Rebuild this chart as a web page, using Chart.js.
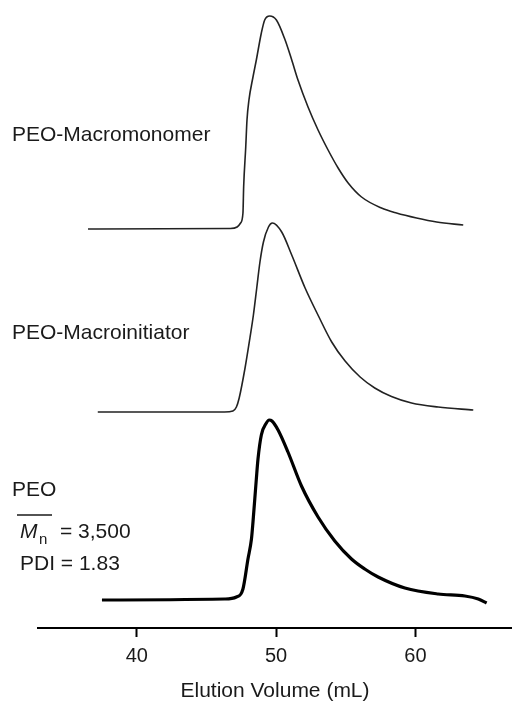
<!DOCTYPE html>
<html>
<head>
<meta charset="utf-8">
<script src="https://cdn.jsdelivr.net/npm/chart.js@4/dist/chart.umd.min.js"></script>
<style>
  html, body { margin: 0; padding: 0; background: #fff; }
  #wrap { width: 512px; height: 702px; position: relative; }
</style>
</head>
<body>
<div id="wrap"><canvas id="gpcChart"></canvas></div>
<script>
// elution volume (mL) and detector signal (arbitrary units)
const macromonomerVol = [36.5, 46.7, 47.2, 47.45, 47.62, 47.67, 47.82, 47.91, 48.05, 48.34, 48.58, 48.94, 49.18, 49.54, 50.02, 50.62, 51.10, 51.57, 52.29, 53.01, 53.73, 54.45, 55.17, 56.13, 57.56, 58.64, 60.08, 61.52, 63.43];
const macromonomerSig = [0, 0.5, 2, 6, 16, 42, 82, 109, 129, 152, 169, 196, 209, 213, 209, 190, 170, 149, 122, 99, 79, 61, 46, 32, 21, 16, 11, 7, 4];

const macroinitiatorVol = [37.2, 46.3, 46.9, 47.15, 47.35, 47.77, 48.12, 48.37, 48.61, 48.84, 49.09, 49.45, 49.73, 50.40, 51.12, 52.08, 53.04, 53.99, 54.95, 56.03, 57.08, 58.28, 59.72, 61.63, 64.15];
const macroinitiatorSig = [0, 0, 1, 5, 14, 44, 74, 97, 124, 150, 170, 185, 189, 180, 157, 124, 96, 70, 51, 35, 24, 15.5, 9, 5, 2];

const peoVol = [37.5, 46.3, 47.15, 47.62, 47.98, 48.23, 48.34, 48.58, 48.70, 48.94, 49.30, 49.50, 49.70, 50.14, 50.85, 51.82, 53.01, 54.21, 55.41, 56.36, 57.32, 59.24, 61.63, 63.55, 64.51, 65.11];
const peoSig = [0, 1, 3, 11, 41, 61, 78, 121, 141, 165, 177, 180, 179, 170, 148, 114, 83, 59, 41, 31, 23, 12, 6, 4, 1, -3];

const xTicks = [40, 50, 60];
const seriesNames = ["PEO-Macromonomer", "PEO-Macroinitiator", "PEO"];

// traces are stacked: each one is lifted by its own baseline
const stackOffset = [399, 216, 28];

function toPoints(vol, sig, off) {
  return vol.map((v, i) => ({ x: v, y: sig[i] + off }));
}

const labelPlugin = {
  id: "traceLabels",
  afterDraw(chart) {
    const ctx = chart.ctx;
    ctx.save();
    ctx.fillStyle = "#1a1a1a";
    ctx.textBaseline = "middle";
    ctx.textAlign = "left";
    ctx.font = "21px 'Liberation Sans', Arial, sans-serif";
    ctx.fillText(seriesNames[0], 12, 135);
    ctx.fillText(seriesNames[1], 12, 333);
    ctx.fillText(seriesNames[2], 12, 490);

    // Mn with overline and subscript
    ctx.font = "italic 21px 'Liberation Sans', Arial, sans-serif";
    ctx.fillText("M", 20, 532);
    ctx.font = "15px 'Liberation Sans', Arial, sans-serif";
    ctx.fillText("n", 39, 540);
    ctx.font = "21px 'Liberation Sans', Arial, sans-serif";
    ctx.fillText("= 3,500", 60, 532);
    ctx.fillText("PDI = 1.83", 20, 564);

    ctx.strokeStyle = "#1a1a1a";
    ctx.lineWidth = 1.5;
    ctx.beginPath();
    ctx.moveTo(17, 515);
    ctx.lineTo(52, 515);
    ctx.stroke();
    ctx.restore();
  }
};

new Chart(document.getElementById("gpcChart").getContext("2d"), {
  type: "line",
  data: {
    datasets: [
      {
        label: seriesNames[0],
        data: toPoints(macromonomerVol, macromonomerSig, stackOffset[0]),
        borderColor: "#222",
        borderWidth: 1.6
      },
      {
        label: seriesNames[1],
        data: toPoints(macroinitiatorVol, macroinitiatorSig, stackOffset[1]),
        borderColor: "#222",
        borderWidth: 1.6
      },
      {
        label: seriesNames[2],
        data: toPoints(peoVol, peoSig, stackOffset[2]),
        borderColor: "#000",
        borderWidth: 3.2
      }
    ]
  },
  options: {
    responsive: true,
    maintainAspectRatio: false,
    animation: false,
    events: [],
    elements: {
      point: { radius: 0 },
      line: { cubicInterpolationMode: "monotone", fill: false }
    },
    layout: { padding: { left: 38, right: 0, top: 0, bottom: 0 } },
    plugins: {
      legend: { display: false },
      tooltip: { enabled: false }
    },
    scales: {
      x: {
        type: "linear",
        min: 32.91,
        max: 66.93,
        afterBuildTicks: axis => { axis.ticks = xTicks.map(v => ({ value: v })); },
        grid: {
          drawOnChartArea: false,
          drawTicks: true,
          tickLength: 9,
          tickWidth: 2,
          tickColor: "#000"
        },
        border: { display: true, width: 2, color: "#000" },
        ticks: {
          color: "#1a1a1a",
          padding: 9,
          maxRotation: 0,
          font: { family: "'Liberation Sans', Arial, sans-serif", size: 20, lineHeight: 1 }
        },
        title: {
          display: true,
          text: "Elution Volume (mL)",
          color: "#1a1a1a",
          padding: { top: 6, bottom: 0 },
          font: { family: "'Liberation Sans', Arial, sans-serif", size: 21, lineHeight: 1 }
        }
      },
      y: {
        display: false,
        min: 0,
        max: 628
      }
    }
  },
  plugins: [labelPlugin]
});
</script>
</body>
</html>
